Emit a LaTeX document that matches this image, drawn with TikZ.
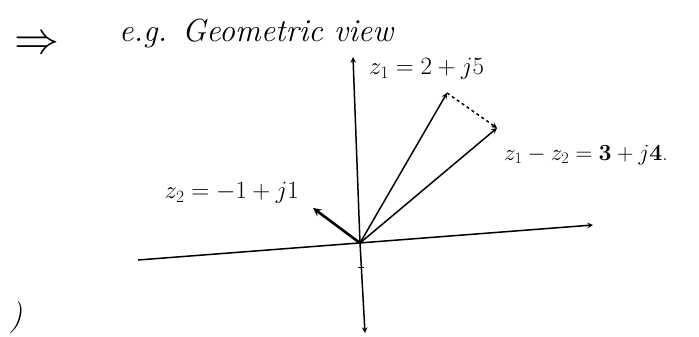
\documentclass[tikz,border=0pt]{standalone}
\usepackage{amsmath}
\usepackage{graphicx}
\usepackage{tikz}
\usetikzlibrary{positioning,calc}

\begin{document}
\begin{tikzpicture}[x=1pt, y=-1pt,
  axis/.style={->, >=stealth, line width=1.5pt, black},
  phasor/.style={->, >=stealth, line width=1.5pt, black},
  diffline/.style={->, >=stealth, line width=1.5pt, dashed, black},
  lbl/.style={font=\fontsize{23}{25}\selectfont, inner sep=1pt},
  title/.style={font=\fontsize{32}{34}\selectfont\itshape, inner sep=1pt},
]
\useasboundingbox (0,0) rectangle (699,337);
% ---------- heading ----------
\node[inner sep=0pt] (arrowsym) at (37,45) {\scalebox{4.5}{$\Rightarrow$}};
\node[title, anchor=west] (head) at (118,34) {e.g. Geometric view};
\node[title] (part) at (16,318) {)};
% ---------- axes ----------
\coordinate (O) at (360,243);
\coordinate (xl) at (138,260);
\coordinate (xr) at (593,225);
\coordinate (yt) at (353,57);
\coordinate (yb) at (365,333);
\draw[axis] (xl) -- (xr);
\draw[axis] (O) -- (yt);
\draw[axis] (O) -- (yb);
\draw[line width=1.5pt] ($(O)!0.27!(yb)+(-3,0)$) -- ++(6,0);
% ---------- phasors (tips) ----------
\coordinate (z1) at (447,93);
\coordinate (z2) at (313,208);
\coordinate (zd) at (497,128);
\draw[phasor] (O) -- (z1);
\draw[phasor] (O) -- (zd);
\draw[phasor, line width=2.6pt] (O) -- (z2);
\draw[diffline] (z1) -- (zd);
% ---------- labels ----------
\node[lbl, anchor=west] (lz1) at (368,69) {$z_1 = 2+j5$};
\node[lbl, anchor=west] (lzd) at (503,155) {\scalebox{0.93}{$z_1 - z_2 = \mathbf{3}+j\mathbf{4}$.}};
\node[lbl, anchor=east] (lz2) at (300,193) {$z_2 = -1+j1$};
\end{tikzpicture}
\end{document}
